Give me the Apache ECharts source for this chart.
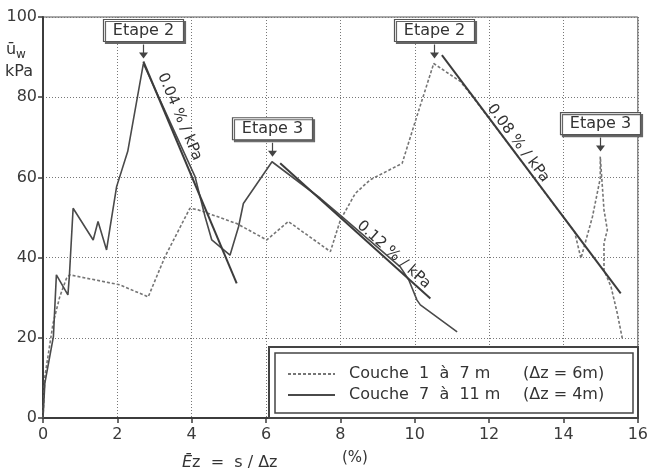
<!DOCTYPE html>
<html>
<head>
<meta charset="utf-8">
<script src="https://cdn.jsdelivr.net/npm/echarts@6/dist/echarts.min.js"></script>
<style>
  html, body { margin: 0; padding: 0; background: #fff; }
  #chart { width: 651px; height: 474px; }
</style>
</head>
<body>
<div id="chart"></div>
<script>
// settlement strain vs. pore pressure, two layers
var seriesNames = ['Couche  1  à  7 m', 'Couche  7  à  11 m'];
var seriesDz = ['(Δz = 6m)', '(Δz = 4m)'];

// Couche 1 à 7 m (dashed)
var upperX = [0, 0.05, 0.27, 0.45, 0.63, 0.72, 2.07, 2.83, 3.28, 3.95, 4.18, 5.21, 6.02, 6.60, 7.73, 8.00, 8.40, 8.80, 9.66, 10.11, 10.51, 11.23, 11.59, 12.60, 13.60, 14.30, 14.47, 14.78, 14.99, 14.99, 15.09, 15.18, 15.09, 15.09, 15.28, 15.45, 15.59];
var upperY = [0, 10.3, 23.6, 30.2, 34.8, 35.7, 33.2, 30.2, 40.2, 52.3, 51.9, 48.5, 44.4, 49.0, 41.5, 49.4, 56.0, 59.4, 63.5, 76.8, 88.4, 83.9, 79.7, 67.4, 55.0, 46.4, 39.8, 50.2, 59.8, 65.2, 51.9, 46.9, 43.6, 36.9, 32.7, 26.0, 19.5];

// Couche 7 à 11 m (solid)
var lowerX = [0, 0.05, 0.28, 0.36, 0.67, 0.71, 0.81, 1.35, 1.48, 1.71, 1.80, 1.98, 2.28, 2.70, 4.09, 4.36, 4.54, 5.03, 5.26, 5.39, 6.16, 7.46, 8.04, 9.61, 9.84, 10.06, 10.15, 11.14];
var lowerY = [0, 8.7, 20.3, 35.7, 30.7, 35.5, 52.3, 44.4, 49.0, 41.9, 47.3, 57.7, 66.5, 88.4, 60.2, 50.2, 44.4, 40.6, 47.7, 53.5, 63.9, 54.8, 50.2, 37.7, 34.4, 29.4, 28.2, 21.5];

// straight slope lines
var fitX0 = [2.70, 6.38, 10.73];
var fitY0 = [88.9, 63.5, 90.5];
var fitX1 = [5.21, 10.42, 15.54];
var fitY1 = [33.6, 29.8, 31.1];
var slopeLabels = ['0.04 % / kPa', '0.12 % / kPa', '0.08 % / kPa'];

// load stages
var etapeLabels = ['Etape 2', 'Etape 3', 'Etape 2', 'Etape 3'];
var etapeX = [2.70, 6.16, 10.51, 14.99];
var etapeY = [88.4, 63.9, 88.4, 65.2];

var xTicks = { min: 0, max: 16, interval: 2 };
var yTicks = { min: 0, max: 100, interval: 20 };

var ink = '#3c3c3c';
var gray = '#757575';
var font = 'DejaVu Sans';

function pairs(xs, ys) {
  return xs.map(function (x, i) { return [x, ys[i]]; });
}

var chart = echarts.init(document.getElementById('chart'), null, { renderer: 'canvas' });

var series = [
  {
    name: seriesNames[0], type: 'line', data: pairs(upperX, upperY),
    symbol: 'none', z: 2,
    lineStyle: { color: gray, width: 1.6, type: [3, 2] }, itemStyle: { color: gray }
  },
  {
    name: seriesNames[1], type: 'line', data: pairs(lowerX, lowerY),
    symbol: 'none', z: 2,
    lineStyle: { color: '#4a4a4a', width: 1.6 }, itemStyle: { color: '#4a4a4a' }
  }
];
fitX0.forEach(function (x, i) {
  series.push({
    type: 'line', silent: true, symbol: 'none', z: 2,
    data: [[x, fitY0[i]], [fitX1[i], fitY1[i]]],
    lineStyle: { color: ink, width: 2 }
  });
});

chart.setOption({
  animation: false,
  backgroundColor: '#fff',
  grid: { left: 43, right: 13, top: 17, bottom: 56, show: true, borderColor: '#555', borderWidth: 1 },
  xAxis: {
    type: 'value', min: xTicks.min, max: xTicks.max, interval: xTicks.interval,
    axisLine: { lineStyle: { color: ink, width: 2 } },
    axisTick: { show: true, length: 5, lineStyle: { color: ink, width: 1.5 } },
    axisLabel: { color: '#3a3a3a', fontFamily: font, fontSize: 16, margin: 9 },
    splitLine: { show: true, lineStyle: { color: '#777', type: [1, 2], width: 1 } }
  },
  yAxis: {
    type: 'value', min: yTicks.min, max: yTicks.max, interval: yTicks.interval,
    axisLine: { show: true, lineStyle: { color: ink, width: 2 } },
    axisTick: { show: true, length: 5, lineStyle: { color: ink, width: 1.5 } },
    axisLabel: { color: '#3a3a3a', fontFamily: font, fontSize: 16, margin: 6 },
    splitLine: { show: true, lineStyle: { color: '#777', type: [1, 2], width: 1 } }
  },
  legend: {
    data: seriesNames,
    orient: 'vertical', left: 282, top: 361,
    itemWidth: 47, itemHeight: 18, itemGap: 5,
    itemStyle: { opacity: 0 },
    selectedMode: false,
    formatter: function (name) {
      var i = seriesNames.indexOf(name);
      return '{n|' + name + '}{d|' + seriesDz[i] + '}';
    },
    textStyle: {
      color: '#333', fontFamily: font, fontSize: 16,
      rich: {
        n: { width: 174, padding: [0, 0, 0, 9], fontFamily: font, fontSize: 16, color: '#333', lineHeight: 18 },
        d: { fontFamily: font, fontSize: 16, color: '#333', lineHeight: 18 }
      }
    }
  },
  series: series
});

function px(x, y) { return chart.convertToPixel({ gridIndex: 0 }, [x, y]); }

var g = [];

// legend frame (double box) over the plot corner
g.push({ type: 'rect', z: 3, shape: { x: 269, y: 347, width: 369, height: 71 }, style: { fill: '#fff', stroke: '#444', lineWidth: 2 } });
g.push({ type: 'rect', z: 3, shape: { x: 275, y: 353, width: 358, height: 60 }, style: { fill: 'none', stroke: '#444', lineWidth: 1.5 } });

// Etape boxes with arrows
etapeLabels.forEach(function (t, i) {
  var p = px(etapeX[i], etapeY[i]);
  var cx = Math.round(p[0]) + 0.5;
  var tip = p[1] - 5;
  g.push({ type: 'line', z: 5, shape: { x1: cx, y1: tip - 14, x2: cx, y2: tip - 5 }, style: { stroke: '#444', lineWidth: 1.2 } });
  g.push({ type: 'polygon', z: 5, shape: { points: [[cx - 4.5, tip - 6], [cx + 4.5, tip - 6], [cx, tip]] }, style: { fill: '#444' } });
  g.push({
    type: 'rect', z: 5, shape: { x: cx - 40, y: tip - 39, width: 80, height: 22 },
    style: { fill: '#fff', stroke: '#555', lineWidth: 1.2, shadowColor: '#666', shadowOffsetX: 2, shadowOffsetY: 2, shadowBlur: 0 }
  });
  g.push({
    type: 'text', z: 6, x: cx, y: tip - 28,
    style: { text: t, align: 'center', verticalAlign: 'middle', fill: '#333', font: '16px "' + font + '"' }
  });
});

// slope labels along the straight lines
var slopeFrac = [0.27, 0.72, 0.39];
var slopeOff = [12, 8, 8];
slopeLabels.forEach(function (t, i) {
  var a = px(fitX0[i], fitY0[i]);
  var b = px(fitX1[i], fitY1[i]);
  var th = Math.atan2(b[1] - a[1], b[0] - a[0]);
  var mx = a[0] + slopeFrac[i] * (b[0] - a[0]) + slopeOff[i] * Math.sin(th);
  var my = a[1] + slopeFrac[i] * (b[1] - a[1]) - slopeOff[i] * Math.cos(th);
  g.push({
    type: 'text', z: 6, x: mx, y: my, rotation: -th,
    style: { text: t, align: 'center', verticalAlign: 'middle', fill: '#333', font: '15px "' + font + '"' }
  });
});

// axis titles
g.push({
  type: 'text', z: 6, x: 182, y: 463,
  style: {
    text: '{e|Ē}{t|z  =  s / Δz}', verticalAlign: 'middle', fill: '#333',
    rich: {
      e: { fontFamily: font, fontStyle: 'italic', fontSize: 16, fill: '#333' },
      t: { fontFamily: font, fontSize: 16, fill: '#333' }
    }
  }
});
g.push({ type: 'text', z: 6, x: 342, y: 458, style: { text: '(%)', verticalAlign: 'middle', fill: '#333', font: '15px "' + font + '"' } });
g.push({ type: 'text', z: 6, x: 6, y: 58, style: { text: 'ū', verticalAlign: 'bottom', fill: '#333', font: '16px "' + font + '"' } });
g.push({ type: 'text', z: 6, x: 16, y: 61, style: { text: 'w', verticalAlign: 'bottom', fill: '#333', font: '12px "' + font + '"' } });
g.push({ type: 'text', z: 6, x: 5, y: 72, style: { text: 'kPa', verticalAlign: 'middle', fill: '#333', font: '16px "' + font + '"' } });

chart.setOption({ graphic: g });

window.addEventListener('resize', function () { chart.resize(); });
</script>
</body>
</html>
